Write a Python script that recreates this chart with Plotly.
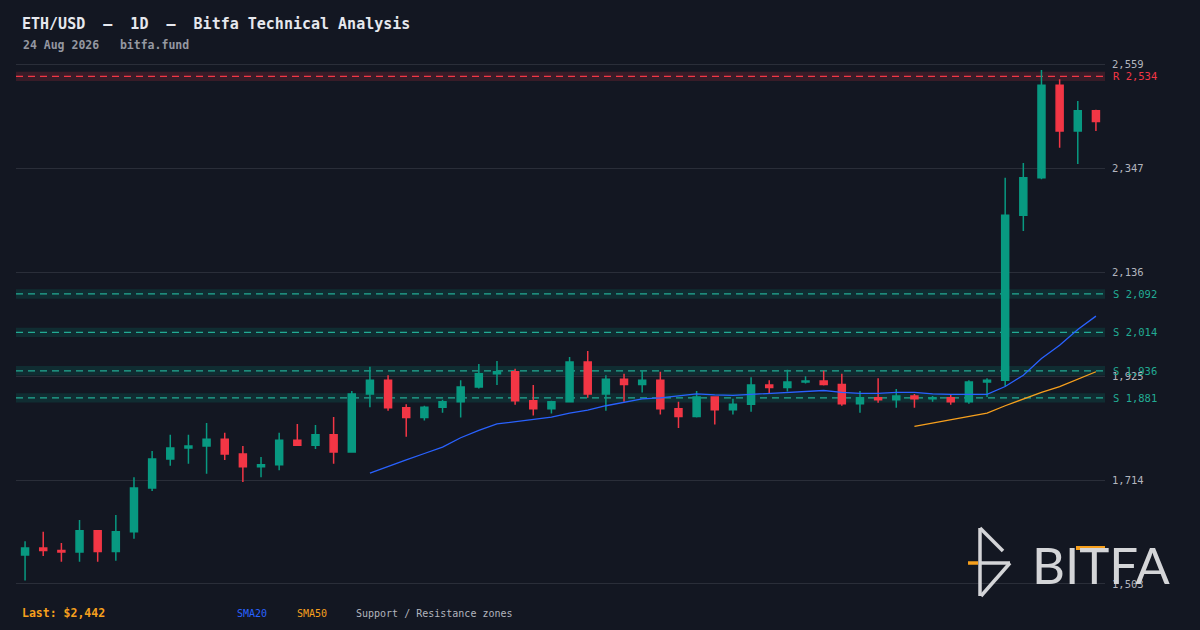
import plotly.graph_objects as go

# daily candles (index 0 = oldest day)
opens = [1562, 1576, 1571, 1568, 1611, 1569, 1609, 1698, 1757, 1779,
	1783, 1797, 1767, 1741, 1745, 1795, 1785, 1806, 1771, 1889,
	1917, 1861, 1841, 1862, 1873, 1903, 1930, 1934, 1875, 1859,
	1873, 1954, 1889, 1919, 1908, 1917, 1859, 1843, 1883, 1857,
	1868, 1907, 1902, 1913, 1915, 1908, 1869, 1881, 1877, 1885,
	1879, 1881, 1873, 1913, 1917, 2252, 2328, 2516, 2423, 2464]
highs = [1590, 1609, 1586, 1633, 1611, 1643, 1720, 1773, 1806, 1806,
	1830, 1810, 1783, 1761, 1810, 1828, 1826, 1842, 1895, 1944,
	1927, 1868, 1865, 1877, 1917, 1950, 1956, 1940, 1907, 1875,
	1964, 1976, 1927, 1930, 1936, 1934, 1873, 1895, 1883, 1879,
	1923, 1917, 1938, 1925, 1936, 1930, 1895, 1921, 1899, 1889,
	1885, 1889, 1917, 1921, 2328, 2358, 2547, 2528, 2484, 2466]
lows = [1510, 1560, 1548, 1548, 1548, 1550, 1595, 1692, 1743, 1747,
	1727, 1755, 1710, 1720, 1734, 1785, 1777, 1747, 1771, 1862,
	1855, 1802, 1835, 1851, 1841, 1900, 1907, 1867, 1845, 1849,
	1873, 1881, 1855, 1873, 1892, 1847, 1820, 1841, 1827, 1847,
	1853, 1889, 1894, 1910, 1906, 1865, 1851, 1871, 1861, 1861,
	1873, 1867, 1869, 1883, 1904, 2220, 2325, 2389, 2356, 2423]
closes = [1576, 1571, 1568, 1611, 1569, 1609, 1698, 1757, 1779, 1783,
	1797, 1767, 1741, 1745, 1795, 1785, 1806, 1771, 1889, 1917,
	1861, 1841, 1862, 1873, 1903, 1930, 1934, 1875, 1859, 1873,
	1954, 1889, 1919, 1908, 1917, 1859, 1843, 1883, 1857, 1868,
	1907, 1902, 1913, 1915, 1908, 1869, 1881, 1877, 1885, 1879,
	1881, 1873, 1913, 1917, 2252, 2328, 2516, 2423, 2464, 2442]
days = list(range(len(closes)))

# moving averages as drawn (SMA20 from day 19, SMA50 from day 49)
sma20 = [1728, 1742, 1755, 1768, 1781, 1800, 1815, 1828, 1833, 1837,
	1842, 1850, 1856, 1865, 1872, 1879, 1881, 1885, 1889, 1887,
	1886, 1888, 1890, 1893, 1895, 1896, 1892, 1890, 1890, 1892,
	1892, 1889, 1888, 1888, 1888, 1904, 1927, 1961, 1988, 2020, 2047]
sma50 = [1823, 1830, 1836, 1843, 1850, 1865, 1879, 1892, 1904, 1919, 1934]

support_levels = [2092, 2014, 1936, 1881]
resistance_levels = [2534]
price_ticks = [1503, 1714, 1925, 2136, 2347, 2559]

bg = '#131722'
up = '#089981'
down = '#f23645'
sup_line = '#22ab94'
blue = '#2962ff'
orange = '#f7a01d'
grey = '#b2b5be'
mono = 'DejaVu Sans Mono'

fig = go.Figure()

fig.add_trace(
	go.Candlestick(
		x = days,
		open = opens, high = highs, low = lows, close = closes,
		increasing = dict(line = dict(color = up, width = 1.5), fillcolor = up),
		decreasing = dict(line = dict(color = down, width = 1.5), fillcolor = down),
		showlegend = False,
	)
)
fig.add_trace(
	go.Scatter(
		x = days[19:], y = sma20,
		mode = 'lines',
		line = dict(color = blue, width = 1.3),
		showlegend = False,
	)
)
fig.add_trace(
	go.Scatter(
		x = days[49:], y = sma50,
		mode = 'lines',
		line = dict(color = orange, width = 1.3),
		showlegend = False,
	)
)

shapes = []
annotations = []
zones = [(lvl, 'S', sup_line, 'rgba(8,153,129,0.17)') for lvl in support_levels]
zones += [(lvl, 'R', down, 'rgba(242,54,69,0.17)') for lvl in resistance_levels]
for lvl, tag, lc, fc in zones:
	shapes.append(dict(
		type = 'rect', xref = 'paper', yref = 'y', layer = 'between',
		x0 = 0, x1 = 1, y0 = lvl - 9.5, y1 = lvl + 9.5,
		fillcolor = fc, line = dict(width = 0),
	))
	shapes.append(dict(
		type = 'line', xref = 'paper', yref = 'y', layer = 'between',
		x0 = 0, x1 = 1, y0 = lvl, y1 = lvl,
		line = dict(color = lc, width = 1.3, dash = '7px,5px'),
	))
	annotations.append(dict(
		xref = 'paper', yref = 'y', x = 1, y = lvl,
		xanchor = 'left', yanchor = 'middle', xshift = 6,
		text = f'{tag} {lvl:,}', showarrow = False,
		font = dict(family = mono, size = 10.5, color = lc),
	))

# pixel -> paper helpers (plot area is x 16..1105, y 58..590)
def pxx(x):
	return (x - 16) / 1089

def pxy(y):
	return (590 - y) / 532

def note(x, y, text, size, color, anchor = 'left', family = mono):
	annotations.append(dict(
		xref = 'paper', yref = 'paper', x = pxx(x), y = pxy(y),
		xanchor = anchor, yanchor = 'middle', showarrow = False,
		text = text, font = dict(family = family, size = size, color = color),
	))

note(20, 24, '<b>ETH/USD\u00a0\u00a0—\u00a0\u00a01D\u00a0\u00a0—\u00a0\u00a0Bitfa Technical Analysis</b>', 15, '#e6e8ee')
note(21, 45, '<b>24 Aug 2026\u00a0\u00a0\u00a0bitfa.fund</b>', 11.5, '#9598a1')
note(20, 613, f'<b>Last: ${closes[-1]:,}</b>', 11.5, orange)
note(235, 614, 'SMA20', 10, blue)
note(295, 614, 'SMA50', 10, orange)
note(354, 614, 'Support / Resistance zones', 10, grey)

# Bitfa logo, bottom right
note(1030, 564, 'BITFA', 51, '#d4d5d8', family = 'Lato')
logo = '#d4d5d8'
for x0, y0, x1, y1 in [(980, 528, 980, 596), (980, 528, 1003, 551),
		(980, 563, 1010, 563), (1010, 563, 981, 596)]:
	shapes.append(dict(
		type = 'line', xref = 'paper', yref = 'paper',
		x0 = pxx(x0), y0 = pxy(y0), x1 = pxx(x1), y1 = pxy(y1),
		line = dict(color = logo, width = 3.5),
	))
shapes.append(dict(
	type = 'line', xref = 'paper', yref = 'paper',
	x0 = pxx(968), y0 = pxy(563), x1 = pxx(978), y1 = pxy(563),
	line = dict(color = orange, width = 3.5),
))
shapes.append(dict(
	type = 'rect', xref = 'paper', yref = 'paper',
	x0 = pxx(1076), y0 = pxy(550), x1 = pxx(1105), y1 = pxy(546),
	fillcolor = orange, line = dict(width = 0),
))

fig.update_layout(
	width = 1200, height = 630,
	margin = dict(l = 16, r = 95, t = 58, b = 40),
	paper_bgcolor = bg,
	plot_bgcolor = bg,
	boxgap = 0.45,
	showlegend = False,
	xaxis = dict(
		range = [-0.5, 59.5],
		visible = False,
		rangeslider = dict(visible = False),
	),
	yaxis = dict(
		range = [1490.8, 2571.2],
		side = 'right',
		tickvals = price_ticks,
		ticktext = [f'{v:,}' for v in price_ticks],
		tickfont = dict(family = mono, size = 10.5, color = grey),
		ticks = '',
		ticklabelstandoff = 6,
		showgrid = True,
		gridcolor = '#2a2e39',
		gridwidth = 1,
		zeroline = False,
		showline = False,
	),
	shapes = shapes,
	annotations = annotations,
)

fig.write_html(
	'out.html',
	config = {'displayModeBar': False},
	post_script = "document.body.style.margin = '0';",
)
